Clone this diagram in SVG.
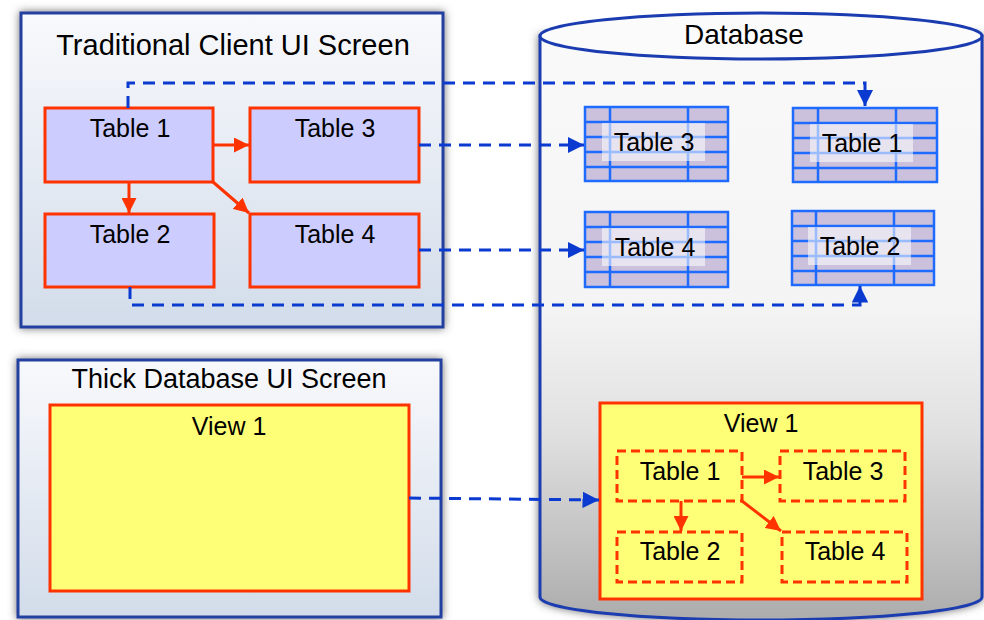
<svg xmlns="http://www.w3.org/2000/svg" width="984" height="620" viewBox="0 0 984 620">
<defs>
<style>
text{font-family:"Liberation Sans",Arial,sans-serif;fill:#000;text-anchor:middle}
.panel{fill:url(#pg);stroke:#2440a0;stroke-width:3}
.tbl{fill:#ccccff;stroke:#ff3300;stroke-width:3}
.dtbl{fill:none;stroke:#ff3300;stroke-width:3;stroke-dasharray:9 5}
.view{fill:#ffff77;stroke:#ff3300;stroke-width:3}
.grid{fill:#cbc1dc;stroke:#1f6bff;stroke-width:2.5}
.gl{stroke:#1f6bff;stroke-width:2.5;fill:none}
.lbl{fill:#ffffff;fill-opacity:0.55}
.blue{fill:none;stroke:#0a3ad0;stroke-width:3;stroke-dasharray:12 8}
.red{fill:none;stroke:#ff3300;stroke-width:3}
.t24{font-size:25px}
</style>
<linearGradient id="pg" x1="0" y1="0" x2="0" y2="1">
<stop offset="0" stop-color="#f8f9fc"/>
<stop offset="1" stop-color="#d2dcea"/>
</linearGradient>
<linearGradient id="cg" x1="0" y1="0" x2="0" y2="620" gradientUnits="userSpaceOnUse">
<stop offset="0" stop-color="#fafafa"/>
<stop offset="0.5" stop-color="#f4f4f4"/>
<stop offset="0.7" stop-color="#e0e0e0"/>
<stop offset="1" stop-color="#acacac"/>
</linearGradient>
<filter id="sh" x="-10%" y="-10%" width="120%" height="120%">
<feGaussianBlur in="SourceAlpha" stdDeviation="4"/>
<feOffset dx="0" dy="0" result="b"/>
<feFlood flood-color="#555" flood-opacity="0.85"/>
<feComposite in2="b" operator="in"/>
<feMerge><feMergeNode/><feMergeNode in="SourceGraphic"/></feMerge>
</filter>
<marker id="ab" viewBox="0 0 10 10" refX="10" refY="5" markerWidth="5.5" markerHeight="5.5" orient="auto" markerUnits="strokeWidth">
<path d="M0,0 L10,5 L0,10 Z" fill="#0a3ad0"/>
</marker>
<marker id="ar" viewBox="0 0 10 10" refX="10" refY="5" markerWidth="5" markerHeight="5" orient="auto" markerUnits="strokeWidth">
<path d="M0,0 L10,5 L0,10 Z" fill="#ff3300"/>
</marker>
</defs>
<rect width="984" height="620" fill="#ffffff"/>

<g id="traditional-screen">
<rect class="panel" x="21" y="13" width="422" height="314" filter="url(#sh)"/>
<text x="233" y="55" font-size="29">Traditional Client UI Screen</text>
</g>

<g id="thick-screen">
<rect class="panel" x="18" y="360" width="423" height="257" filter="url(#sh)"/>
<text x="229" y="388" font-size="27">Thick Database UI Screen</text>
</g>

<g id="database">
<path d="M540,36 V597 A221,23 0 0 0 982,597 V36 Z" fill="url(#cg)" stroke="#1a3cb0" stroke-width="3" filter="url(#sh)"/>
<ellipse cx="761" cy="36" rx="221" ry="23" fill="#fbfbfb" stroke="#1a3cb0" stroke-width="3"/>
<text x="744" y="44" font-size="28">Database</text>
</g>

<g id="ui-table1"><rect class="tbl" x="45" y="108" width="168" height="74"/><text class="t24" x="130" y="137">Table 1</text></g>
<g id="ui-table3"><rect class="tbl" x="250" y="108" width="169" height="74"/><text class="t24" x="335" y="137">Table 3</text></g>
<g id="ui-table2"><rect class="tbl" x="45" y="214" width="169" height="73"/><text class="t24" x="130" y="243">Table 2</text></g>
<g id="ui-table4"><rect class="tbl" x="250" y="214" width="169" height="73"/><text class="t24" x="335" y="243">Table 4</text></g>

<g id="ui-view1"><rect class="view" x="50" y="405" width="359" height="186"/><text class="t24" x="229" y="435">View 1</text></g>

<g id="db-table3">
<rect class="grid" x="585" y="107" width="143" height="74"/>
<path class="gl" d="M585,122H728M585,137H728M585,152H728M585,167H728M610,107V181M688,107V181"/>
<rect class="lbl" x="602" y="123" width="103" height="38"/>
<text class="t24" x="654" y="151">Table 3</text>
</g>
<g id="db-table1">
<rect class="grid" x="793" y="108" width="144" height="74"/>
<path class="gl" d="M793,123H937M793,138H937M793,153H937M793,168H937M818,108V182M896,108V182"/>
<rect class="lbl" x="810" y="124" width="103" height="38"/>
<text class="t24" x="862" y="152">Table 1</text>
</g>
<g id="db-table4">
<rect class="grid" x="585" y="212" width="143" height="75"/>
<path class="gl" d="M585,227H728M585,242H728M585,257H728M585,272H728M610,212V287M688,212V287"/>
<rect class="lbl" x="602" y="228" width="103" height="38"/>
<text class="t24" x="655" y="256">Table 4</text>
</g>
<g id="db-table2">
<rect class="grid" x="792" y="211" width="142" height="74"/>
<path class="gl" d="M792,226H934M792,241H934M792,256H934M792,271H934M816,211V285M894,211V285"/>
<rect class="lbl" x="808" y="227" width="103" height="38"/>
<text class="t24" x="860" y="255">Table 2</text>
</g>

<g id="db-view1">
<rect class="view" x="600" y="403" width="322" height="196"/>
<text class="t24" x="761" y="432">View 1</text>
</g>
<g id="view-table1"><rect class="dtbl" x="617" y="451" width="125" height="50"/><text class="t24" x="680" y="480">Table 1</text></g>
<g id="view-table3"><rect class="dtbl" x="780" y="451" width="125" height="50"/><text class="t24" x="843" y="480">Table 3</text></g>
<g id="view-table2"><rect class="dtbl" x="617" y="532" width="125" height="50"/><text class="t24" x="680" y="560">Table 2</text></g>
<g id="view-table4"><rect class="dtbl" x="782" y="532" width="125" height="50"/><text class="t24" x="845" y="560">Table 4</text></g>

<g id="connectors">
<path class="red" d="M213,145 H249" marker-end="url(#ar)"/>
<path class="red" d="M129,182 V213" marker-end="url(#ar)"/>
<path class="red" d="M213,182 L249,213" marker-end="url(#ar)"/>
<path class="red" d="M742,477 H779" marker-end="url(#ar)"/>
<path class="red" d="M681,501 V531" marker-end="url(#ar)"/>
<path class="red" d="M742,501 L781,531" marker-end="url(#ar)"/>
<path class="blue" d="M128,108 V83 H865 V106" marker-end="url(#ab)"/>
<path class="blue" d="M419,145 H584" marker-end="url(#ab)"/>
<path class="blue" d="M419,250 H584" marker-end="url(#ab)"/>
<path class="blue" d="M130,287 V305 H860 V286" marker-end="url(#ab)"/>
<path class="blue" d="M409,498 L599,500" marker-end="url(#ab)"/>
</g>
</svg>
